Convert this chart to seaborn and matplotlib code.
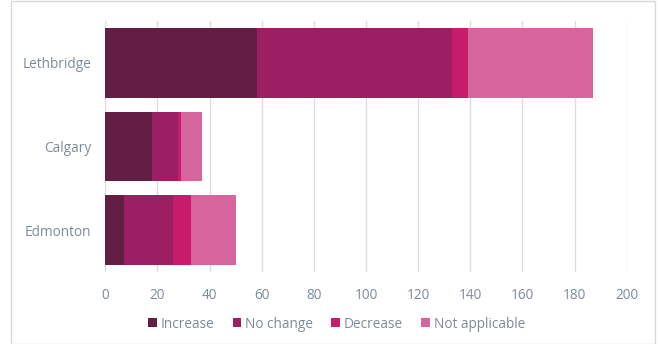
import matplotlib
matplotlib.use("Agg")
import matplotlib.pyplot as plt
import seaborn as sns
import numpy as np
import pandas as pd
from matplotlib.patches import Patch, Rectangle

cities = ["Lethbridge", "Calgary", "Edmonton"]
series = ["Increase", "No change", "Decrease", "Not applicable"]
increase = [58, 18, 7]
no_change = [75, 10, 19]
decrease = [6, 1, 7]
not_applicable = [48, 8, 17]
colors = ["#631E43", "#9B1F62", "#C71C6B", "#D6649D"]
xticks = [0, 20, 40, 60, 80, 100, 120, 140, 160, 180, 200]

sns.set_theme(style="white")
plt.rcParams['font.family'] = ['Open Sans', 'DejaVu Sans']
txt = "#7D8B99"

fig = plt.figure(figsize=(6.6, 3.44), dpi=100)
ax = fig.add_axes([105.3/660, 1 - 271.75/344, (626.7-105.3)/660, 250.5/344])

vals = np.array([increase, no_change, decrease, not_applicable], dtype=float)
cum = np.cumsum(vals, axis=0)
for i in range(len(series) - 1, -1, -1):
    df = pd.DataFrame({"city": cities, "value": cum[i]})
    sns.barplot(data=df, y="city", x="value", orient="h", color=colors[i],
                width=0.835, ax=ax, saturation=1, linewidth=0, zorder=3)

ax.set_xlim(0, 200)
ax.set_xticks(xticks)
ax.set_xticklabels([str(t) for t in xticks])
ax.set_xlabel("")
ax.set_ylabel("")
ax.grid(axis="x", color="#D9DEE4", linewidth=1, zorder=0)
ax.set_axisbelow(True)
for s in ax.spines.values():
    s.set_visible(False)
ax.tick_params(axis="both", length=0, labelsize=9.8, colors=txt)
ax.tick_params(axis="x", pad=12)
ax.tick_params(axis="y", pad=10)

handles = [Patch(facecolor=c, edgecolor="none") for c in colors]
fig.legend(handles, series, loc="center", bbox_to_anchor=(0.51, 1 - 324/344),
           ncol=4, frameon=False, fontsize=9.8, labelcolor=txt,
           handlelength=0.65, handleheight=0.65, handletextpad=0.3, columnspacing=1.3)

fig.patches.append(Rectangle((11/660, 0.5/344), (655-11)/660, 1 - 1/344,
                             transform=fig.transFigure, fill=False,
                             edgecolor="#D9D9D9", linewidth=1))

fig.savefig("out.png", dpi=100)
